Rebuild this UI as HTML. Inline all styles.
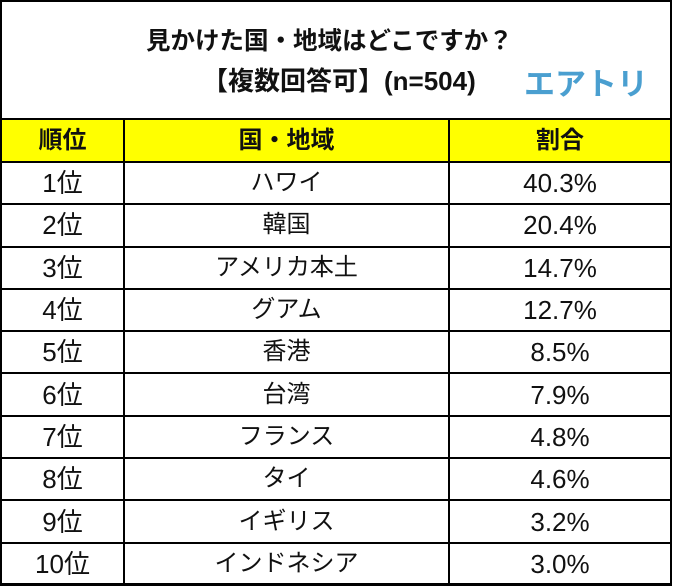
<!DOCTYPE html>
<html><head><meta charset="utf-8"><style>
body{margin:0;background:#fff;width:675px;height:587px;position:relative;overflow:hidden;font-family:"Liberation Sans","Noto Sans CJK JP",sans-serif;}
#frame{position:absolute;left:0;top:0;width:668px;height:581px;border:2px solid #000;border-bottom-width:3px;}
.t{position:absolute;font-weight:bold;color:#111;white-space:nowrap;}
table{position:absolute;left:0;top:118px;border-collapse:collapse;width:672px;}
td{border:2px solid #000;text-align:center;height:40.3px;padding:0;font-size:24px;color:#111;line-height:1;}
td.n{font-size:26px;}
tr.h td{background:#ffff00;font-weight:bold;height:41px;font-size:24px;}
</style></head><body>
<div id="frame"></div>
<div class="t" style="left:146px;top:22px;font-size:24.5px;">見かけた国・地域はどこですか？</div>
<div class="t" style="left:202px;top:61px;font-size:26px;">【複数回答可】(n=504)</div>
<div class="t" style="left:524px;top:59px;font-size:31px;color:#4a9fd0;">エアトリ</div>
<table><colgroup><col style="width:123px"><col style="width:325px"><col></colgroup><tbody id="tb">
<tr class="h"><td>順位</td><td>国・地域</td><td>割合</td></tr>
</tbody></table>
<script>
const ranks=["1位","2位","3位","4位","5位","6位","7位","8位","9位","10位"];
const regions=["ハワイ","韓国","アメリカ本土","グアム","香港","台湾","フランス","タイ","イギリス","インドネシア"];
const shares=[40.3,20.4,14.7,12.7,8.5,7.9,4.8,4.6,3.2,3.0];
const tb=document.getElementById('tb');
ranks.forEach((r,i)=>{
  const tr=document.createElement('tr');
  
  
  [r,regions[i],shares[i].toFixed(1)+'%'].forEach((v,j)=>{
    const td=document.createElement('td');
    td.textContent=v;
    if(j!==1) td.className='n';
    
    
    tr.appendChild(td);
  });
  tb.appendChild(tr);
});
</script>
</body></html>
